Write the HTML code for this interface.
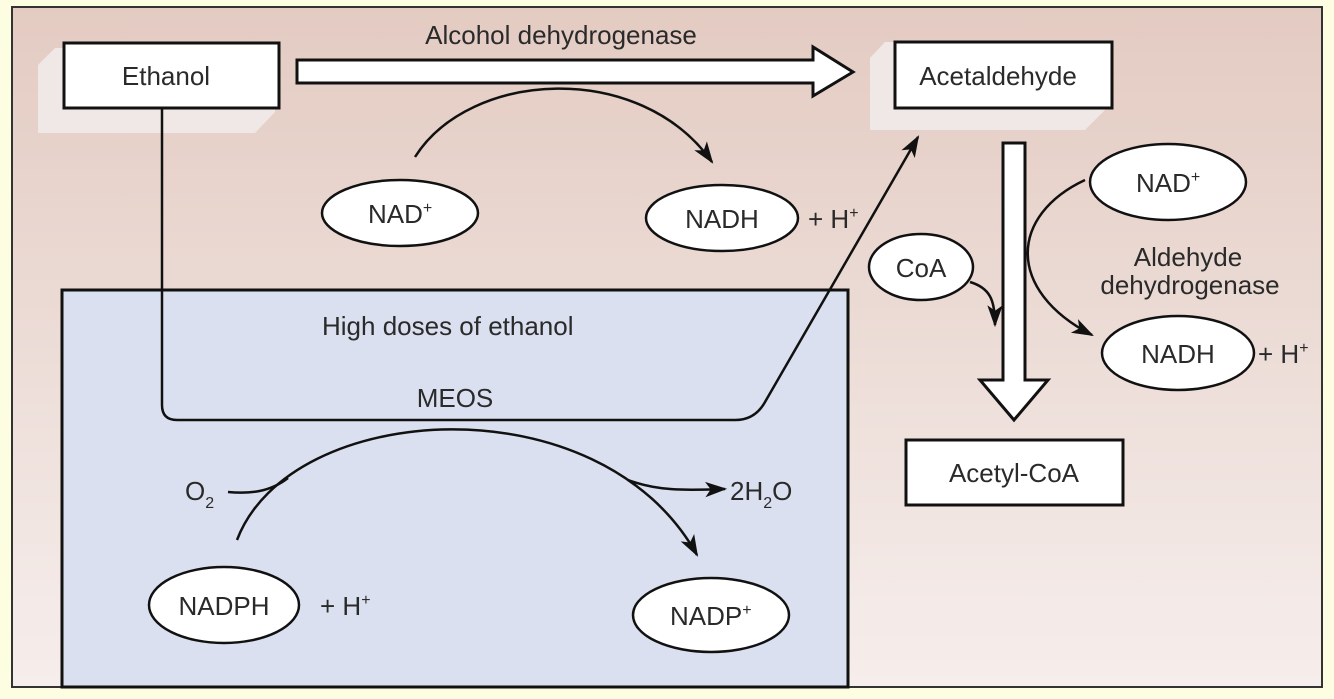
<!DOCTYPE html>
<html><head><meta charset="utf-8"><style>
html,body{margin:0;padding:0;background:#fdfde2;}
svg{display:block}
text{font-family:"Liberation Sans",sans-serif;fill:#2a2a2a;font-size:26px;}
</style></head><body>
<svg width="1334" height="699" viewBox="0 0 1334 699" xmlns="http://www.w3.org/2000/svg">
<defs>
<linearGradient id="bg" x1="0" y1="0" x2="0" y2="1">
<stop offset="0" stop-color="#e3cbc2"/><stop offset="1" stop-color="#f6eeec"/>
</linearGradient>
<marker id="ah2" viewBox="0 0 10 10" refX="9" refY="5" markerWidth="22" markerHeight="22" markerUnits="userSpaceOnUse" orient="auto">
<path d="M0,1.5 L10,5 L0,8.5 L2.5,5z" fill="#111"/>
</marker>
</defs>
<rect x="12" y="7" width="1310" height="680" fill="url(#bg)" stroke="#333" stroke-width="2"/>
<rect x="62" y="290" width="786" height="397" fill="#dae0ef" stroke="#111" stroke-width="3"/>

<polygon points="55,48 275,48 275,112 255,133 38,133 38,65" fill="#efe8e6"/>
<polygon points="885,42 1105,42 1105,110 1085,130 870,130 870,58" fill="#efe8e6"/>

<rect x="64" y="43" width="215" height="65" fill="#fff" stroke="#111" stroke-width="3"/>
<text x="166" y="85" text-anchor="middle">Ethanol</text>

<path d="M297,60 L813,60 L813,47 L853,72 L813,96 L813,83 L297,83 Z" fill="#fff" stroke="#111" stroke-width="3"/>
<text x="561" y="44" text-anchor="middle">Alcohol dehydrogenase</text>

<rect x="895" y="42" width="217" height="66" fill="#fff" stroke="#111" stroke-width="3"/>
<text x="998" y="85" text-anchor="middle">Acetaldehyde</text>

<path d="M415,157 C470,70 640,60 712,162" fill="none" stroke="#111" stroke-width="2.5" marker-end="url(#ah2)"/>
<ellipse cx="400" cy="213" rx="78" ry="33" fill="#fff" stroke="#111" stroke-width="2.5"/>
<text x="368" y="223">NAD<tspan font-size="16" dy="-10">+</tspan></text>
<ellipse cx="722" cy="218" rx="76" ry="33" fill="#fff" stroke="#111" stroke-width="2.5"/>
<text x="722" y="228" text-anchor="middle">NADH</text>
<text x="808" y="228">+ H<tspan font-size="16" dy="-10">+</tspan></text>

<path d="M162,108 L162,405 Q162,420 177,420 L735,420 Q755,420 765,402 L918,137" fill="none" stroke="#111" stroke-width="2.5" marker-end="url(#ah2)"/>
<text x="322" y="335">High doses of ethanol</text>
<text x="455" y="407" text-anchor="middle">MEOS</text>

<path d="M237,540 C290,400 600,380 697,555" fill="none" stroke="#111" stroke-width="2.5" marker-end="url(#ah2)"/>
<path d="M228,492 C250,494 270,492 288,478" fill="none" stroke="#111" stroke-width="2.5"/>
<path d="M628,480 C660,492 690,490 725,489" fill="none" stroke="#111" stroke-width="2.5" marker-end="url(#ah2)"/>
<text x="185" y="500">O<tspan font-size="16" dy="8">2</tspan></text>
<text x="730" y="500">2H<tspan font-size="16" dy="8">2</tspan><tspan dy="-8">O</tspan></text>

<ellipse cx="224" cy="605" rx="75" ry="38" fill="#fff" stroke="#111" stroke-width="2.5"/>
<text x="224" y="615" text-anchor="middle">NADPH</text>
<text x="320" y="615">+ H<tspan font-size="16" dy="-10">+</tspan></text>
<ellipse cx="711" cy="615" rx="78" ry="37" fill="#fff" stroke="#111" stroke-width="2.5"/>
<text x="670" y="625">NADP<tspan font-size="16" dy="-10">+</tspan></text>

<path d="M1003,143 L1025,143 L1025,380 L1048,380 L1014,420 L980,380 L1003,380 Z" fill="#fff" stroke="#111" stroke-width="3"/>

<ellipse cx="921" cy="267" rx="52" ry="33" fill="#fff" stroke="#111" stroke-width="2.5"/>
<text x="921" y="277" text-anchor="middle">CoA</text>
<path d="M970,282 C990,288 995,300 995,325" fill="none" stroke="#111" stroke-width="2.5" marker-end="url(#ah2)"/>

<path d="M1085,180 C1010,215 1005,290 1092,335" fill="none" stroke="#111" stroke-width="2.5" marker-end="url(#ah2)"/>
<ellipse cx="1168" cy="182" rx="78" ry="38" fill="#fff" stroke="#111" stroke-width="2.5"/>
<text x="1136" y="192">NAD<tspan font-size="16" dy="-10">+</tspan></text>
<text x="1188" y="266" text-anchor="middle">Aldehyde</text>
<text x="1190" y="294" text-anchor="middle">dehydrogenase</text>
<ellipse cx="1178" cy="353" rx="76" ry="37" fill="#fff" stroke="#111" stroke-width="2.5"/>
<text x="1178" y="363" text-anchor="middle">NADH</text>
<text x="1258" y="363">+ H<tspan font-size="16" dy="-10">+</tspan></text>

<rect x="906" y="440" width="217" height="65" fill="#fff" stroke="#111" stroke-width="3"/>
<text x="1014" y="482" text-anchor="middle">Acetyl-CoA</text>
</svg>
</body></html>
